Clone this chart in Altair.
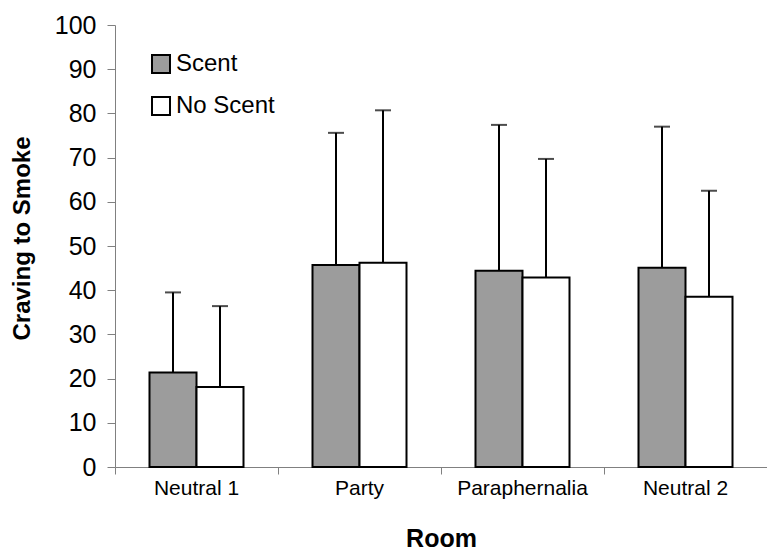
import altair as alt
import pandas as pd

# Mean craving ratings per room, with the standard deviation drawn as an upward error bar
rooms = ["Neutral 1", "Party", "Paraphernalia", "Neutral 2"]
conditions = ["Scent", "No Scent"]
scent_mean = [21.4, 45.7, 44.4, 45.1]
scent_sd = [18.1, 29.9, 33.0, 31.9]
no_scent_mean = [18.1, 46.2, 42.9, 38.5]
no_scent_sd = [18.3, 34.5, 26.8, 24.0]

rows = []
for i, room in enumerate(rooms):
    rows.append({"room": room, "condition": "Scent",
                 "mean": scent_mean[i], "upper": scent_mean[i] + scent_sd[i]})
    rows.append({"room": room, "condition": "No Scent",
                 "mean": no_scent_mean[i], "upper": no_scent_mean[i] + no_scent_sd[i]})
df = pd.DataFrame(rows)

FONT = "Liberation Sans"
AXIS_GRAY = "#808080"
PLOT_W = 652

x_enc = alt.X(
    "room:N",
    sort=rooms,
    scale=alt.Scale(paddingInner=0, paddingOuter=0),
    axis=alt.Axis(
        title="Room",
        labelAngle=0,
        bandPosition=0,
        labelAlign="center",
        labelFlush=False,
        labelOverlap=False,
        tickSize=7,
        labelPadding=14,
        labelFontSize=21,
        titleFontSize=25,
        titleBaseline="alphabetic",
        titleY=79,
    ),
)
x_off = alt.XOffset(
    "condition:N",
    sort=conditions,
    scale=alt.Scale(domain=conditions, paddingInner=0, paddingOuter=0.734),
)
y_scale = alt.Scale(domain=[0, 100], nice=False)

bars = alt.Chart(df).mark_bar(stroke="black", strokeWidth=2, opacity=1).encode(
    x=x_enc,
    xOffset=x_off,
    y=alt.Y(
        "mean:Q",
        scale=y_scale,
        axis=alt.Axis(
            title="Craving to Smoke",
            values=list(range(0, 101, 10)),
            tickSize=8,
            labelPadding=11,
            labelFontSize=25,
            titleFontSize=24,
            titleAngle=270,
            titleAlign="center",
            titleBaseline="alphabetic",
            titleX=-86,
            titleY=213,
        ),
    ),
    fill=alt.Fill(
        "condition:N",
        sort=conditions,
        scale=alt.Scale(domain=conditions, range=["#9c9c9c", "#ffffff"]),
        legend=alt.Legend(
            title=None,
            orient="none",
            legendX=34,
            legendY=27,
            symbolType="square",
            symbolSize=324,
            symbolStrokeColor="black",
            symbolStrokeWidth=2,
            symbolOpacity=1,
            labelFontSize=24,
            labelOffset=3,
            rowPadding=16,
            padding=0,
        ),
    ),
)

# Vertical stem of each error bar, from the bar top to mean + SD
stems = alt.Chart(df).mark_rule(color="black", strokeWidth=2).encode(
    x=alt.X("room:N", sort=rooms),
    xOffset=alt.XOffset("condition:N", sort=conditions),
    y=alt.Y("mean:Q", scale=y_scale),
    y2="upper:Q",
)

# Horizontal cap at the top of each error bar
caps = alt.Chart(df).mark_tick(color="black", thickness=2, size=16, orient="horizontal").encode(
    x=alt.X("room:N", sort=rooms),
    xOffset=alt.XOffset("condition:N", sort=conditions),
    y=alt.Y("upper:Q", scale=y_scale),
)

chart = (
    alt.layer(stems, caps, bars)
    .properties(
        width=PLOT_W,
        height=442,
        autosize=alt.AutoSizeParams(type="none"),
        padding={"left": 115, "top": 25, "right": 0, "bottom": 83},
        background="white",
    )
    .configure_view(stroke=None)
    .configure_axis(
        grid=False,
        domainColor=AXIS_GRAY,
        tickColor=AXIS_GRAY,
        domainWidth=1,
        tickWidth=1,
        labelColor="black",
        titleColor="black",
        labelFont=FONT,
        titleFont=FONT,
        titleFontWeight="bold",
    )
    .configure_legend(labelFont=FONT, labelColor="black")
)

chart.save("out.html", embed_options={"renderer": "svg", "actions": False})
